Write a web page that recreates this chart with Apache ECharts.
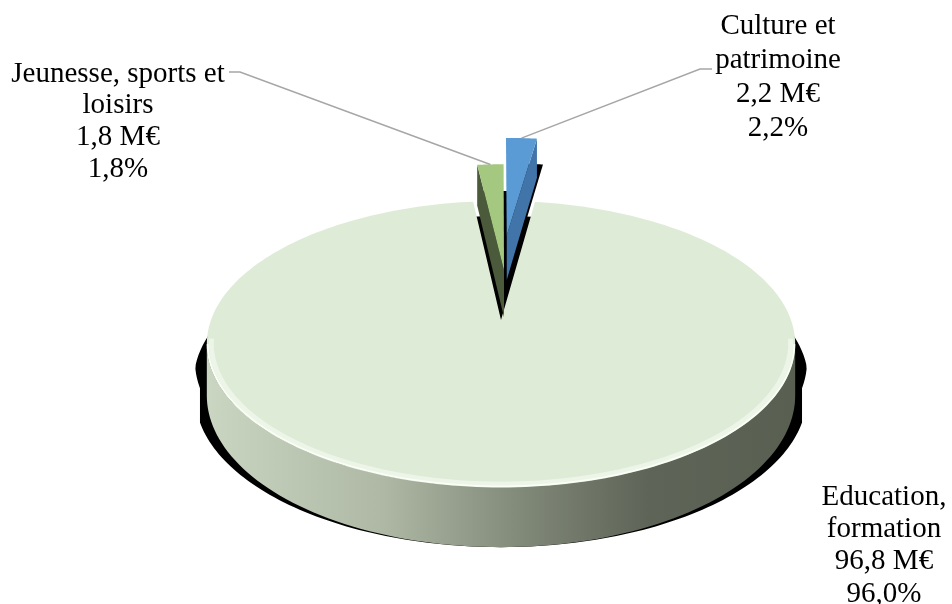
<!DOCTYPE html>
<html><head><meta charset="utf-8">
<script src="https://cdn.jsdelivr.net/npm/echarts@6/dist/echarts.min.js"></script>
<style>html,body{margin:0;padding:0;background:#fff}#c{width:952px;height:604px}</style>
</head><body><div id="c"></div>
<script>
// ---- data ----
const categories = ['Culture et\npatrimoine', 'Education,\nformation', 'Jeunesse, sports et\nloisirs'];
const valuesMEur = [2.2, 96.8, 1.8];
const percents = [2.2, 96.0, 1.8];

// ---- style / layout ----
const sliceStyle = [
  {top: '#5B9BD5', wall: '#4174A9', wallEdge: 'end', offset: [0.022, -0.68]},
  {top: '#DEEBD6', offset: [0, 0]},
  {top: '#A4C880', wall: '#4A5A3A', wallEdge: 'start', offset: [0.011, -0.38]}
];
const labelLayout = [
  {x: 778, y: 26, dy: 34, leader: [[712, 69], [700, 69]]},
  {x: 884, y: 497, dy: 32.3, leader: null},
  {x: 118, y: 74, dy: 31.7, leader: [[229, 72], [240, 72]]}
];
const P = {cx: 501, cy: 320, a: 139, p: 0.168, k: 290, ch: 50};

function proj(X, Y, Z) {
  const w = 1 - P.p * Y;
  return [P.cx + P.k * X / w, P.cy + (P.a * Y + P.ch * Z) / w];
}
function pt(theta, r, off, Z, sx) {
  const t = theta * Math.PI / 180;
  return proj(off[0] + (sx || 1) * r * Math.sin(t), off[1] - r * Math.cos(t), Z);
}
function arc(t0, t1, r, off, Z, n, sxFn) {
  const out = [];
  for (let j = 0; j <= n; j++) {
    const th = t0 + (t1 - t0) * j / n;
    out.push(pt(th, r, off, Z, sxFn ? sxFn(th) : 1));
  }
  return out;
}
const fmt = v => v.toFixed(1).replace('.', ',');
// shadow widening (horizontal only), only in the front half
const shadowSX = th => {
  const c = Math.cos(th * Math.PI / 180);
  return 1 + 0.04 * Math.min(1, Math.max(0, (0.1 - c) / 0.3));
};

const total = valuesMEur.reduce((s, v) => s + v, 0);
const SIL = Math.acos(-P.p) * 180 / Math.PI; // silhouette angle (~99.7)

function renderItem(params, api) {
  const i = params.dataIndex;
  const v = api.value(0);
  let start = 0;
  for (let j = 0; j < i; j++) start += valuesMEur[j];
  const t0 = start / total * 360;
  const t1 = t0 + v / total * 360;
  const mid = (t0 + t1) / 2;
  const st = sliceStyle[i];
  const off = st.offset;
  const children = [];

  if (i === 1) {
    const sh = arc(360 - SIL - 10, 360 + SIL + 10, 1, off, 0.35, 120, shadowSX)
      .concat(arc(SIL + 10, 360 - SIL - 10, 1, off, 1.0, 120, shadowSX));
    children.push({type: 'polygon', z2: 0, shape: {points: sh}, style: {fill: '#000'}});
    const a0 = Math.max(SIL, t0), a1 = Math.min(360 - SIL, t1);
    const wall = arc(a0, a1, 1, off, 0, 100).concat(arc(a1, a0, 1, off, 1, 100));
    children.push({type: 'polygon', z2: 1, shape: {points: wall}, style: {
      fill: {type: 'linear', x: 207, y: 0, x2: 795, y2: 0, global: true, colorStops: [
        {offset: 0, color: '#CAD6C2'}, {offset: 0.3, color: '#AEB8A4'},
        {offset: 0.55, color: '#7E8676'}, {offset: 0.75, color: '#5E6457'}, {offset: 1, color: '#596052'}]}
    }});
    const top = [pt(0, 0, off, 0)].concat(arc(t0, t1, 1, off, 0, 240));
    children.push({type: 'polygon', z2: 2, shape: {points: top}, style: {fill: st.top}});
    children.push({type: 'polyline', z2: 3, shape: {points: arc(a0 - 2, a1 + 2, 0.985, off, 0, 120)},
      style: {stroke: 'rgba(255,255,255,0.45)', lineWidth: 5, fill: null}});
    children.push({type: 'polyline', z2: 3, shape: {points: arc(a0, a1, 0.997, off, 0, 120)},
      style: {stroke: 'rgba(250,255,245,0.95)', lineWidth: 2, fill: null}});
  } else {
    const shPts = [pt(0, 0, off, 0.75)].concat(arc(t0, t1, 1.04, off, 0.75, 20));
    children.push({type: 'polygon', z2: 0, shape: {points: shPts.map(q => [q[0] + 5, q[1]])}, style: {fill: '#000'}});
    const te = st.wallEdge === 'start' ? t0 : t1;
    const wallPts = [pt(te, 0, off, 0), pt(te, 1, off, 0), pt(te, 1, off, 1), pt(te, 0, off, 1)];
    children.push({type: 'polygon', z2: 5, shape: {points: wallPts}, style: {fill: st.wall}});
    const top = [pt(0, 0, off, 0)].concat(arc(t0, t1, 1, off, 0, 20));
    children.push({type: 'polygon', z2: 6, shape: {points: top}, style: {fill: st.top}});
  }

  const L = labelLayout[i];
  if (L.leader) {
    const endPt = pt(mid, 1, off, 0);
    children.push({type: 'polyline', z2: 9, shape: {points: L.leader.concat([endPt])},
      style: {stroke: '#A6A6A6', lineWidth: 1.5, fill: null}});
  }
  return {type: 'group', children};
}

// label texts, one text element per line
const labelGraphics = [];
categories.forEach((c, i) => {
  const lines = c.split('\n').concat([fmt(valuesMEur[i]) + ' M€', fmt(percents[i]) + '%']);
  const L = labelLayout[i];
  lines.forEach((ln, k) => {
    labelGraphics.push({
      type: 'text', x: L.x, y: L.y + k * L.dy, z: 10,
      style: {text: ln, fontSize: 29, fontFamily: 'Liberation Serif', fill: '#000', align: 'center', verticalAlign: 'middle'}
    });
  });
});

const chart = echarts.init(document.getElementById('c'));
chart.setOption({
  animation: false,
  backgroundColor: '#fff',
  graphic: labelGraphics,
  series: [{
    type: 'custom',
    coordinateSystem: 'none',
    renderItem: renderItem,
    data: valuesMEur.map((v, i) => ({name: categories[i], value: [v, i]}))
  }]
});
</script>
</body></html>
